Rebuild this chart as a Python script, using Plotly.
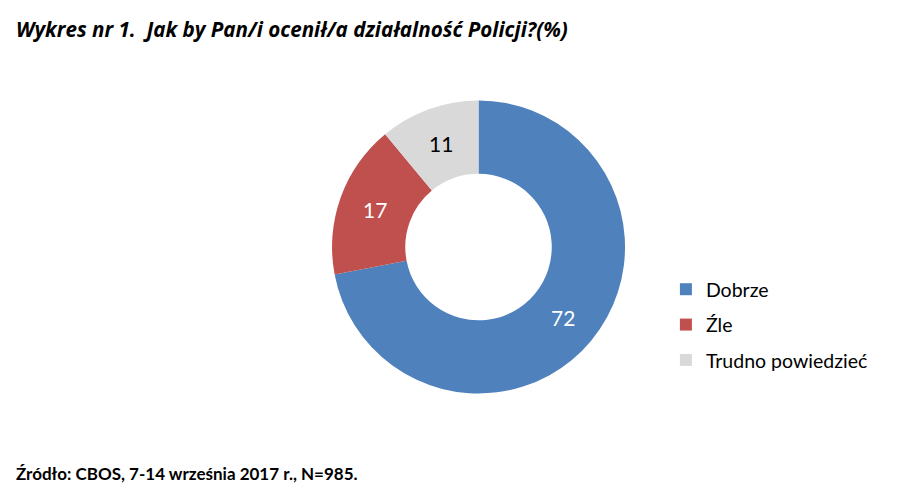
import plotly.graph_objects as go

categories = ["Dobrze", "Źle", "Trudno powiedzieć"]
values = [72, 17, 11]
colors = ["#4F81BD", "#C0504D", "#D9D9D9"]
text_colors = ["white", "white", "black"]

title_text = "Wykres nr 1.  Jak by Pan/i ocenił/a działalność Policji?(%)"
source_text = "Źródło: CBOS, 7-14 września 2017 r., N=985."

FONT = "Lato"

fig = go.Figure()
fig.add_trace(go.Pie(
    labels=categories,
    values=values,
    hole=0.5,
    sort=False,
    direction="clockwise",
    rotation=0,
    marker=dict(colors=colors, line=dict(width=0)),
    texttemplate="%{value}",
    textposition="inside",
    insidetextorientation="horizontal",
    textfont=dict(family=FONT, size=21, color=text_colors),
    domain=dict(x=[0.3600, 0.6856], y=[0.2084, 0.8100]),
    hoverinfo="label+value",
    showlegend=False,
))

# legend entries (square swatches) matching the slices
for i, (cat, col) in enumerate(zip(categories, colors)):
    fig.add_trace(go.Scatter(
        x=[None], y=[None], mode="markers", name=cat,
        marker=dict(symbol="square", size=10, color=col),
        legendgroup=f"g{i}", showlegend=True, hoverinfo="skip",
    ))

fig.update_layout(
    width=900, height=487,
    margin=dict(l=0, r=0, t=0, b=0),
    paper_bgcolor="white",
    plot_bgcolor="white",
    font=dict(family=FONT, size=18, color="#000000"),
    xaxis=dict(visible=False),
    yaxis=dict(visible=False),
    legend=dict(
        x=0.731, y=0.349, xanchor="left", yanchor="middle",
        font=dict(family=FONT, size=19.5, color="#000000"),
        bgcolor="rgba(0,0,0,0)",
        itemwidth=30,
        tracegroupgap=7,
        itemsizing="constant",
    ),
    annotations=[
        dict(text="<b><i>" + title_text + "</i></b>", xref="paper", yref="paper",
             x=6 / 900, y=1 - 21 / 487, xanchor="left", yanchor="middle", showarrow=False,
             font=dict(family="Open Sans", size=20.6, color="#000000")),
        dict(text="<b>" + source_text + "</b>", xref="paper", yref="paper",
             x=6 / 900, y=1 - 465 / 487, xanchor="left", yanchor="middle", showarrow=False,
             font=dict(family=FONT, size=17, color="#000000")),
    ],
)

fig.write_html("out.html")
